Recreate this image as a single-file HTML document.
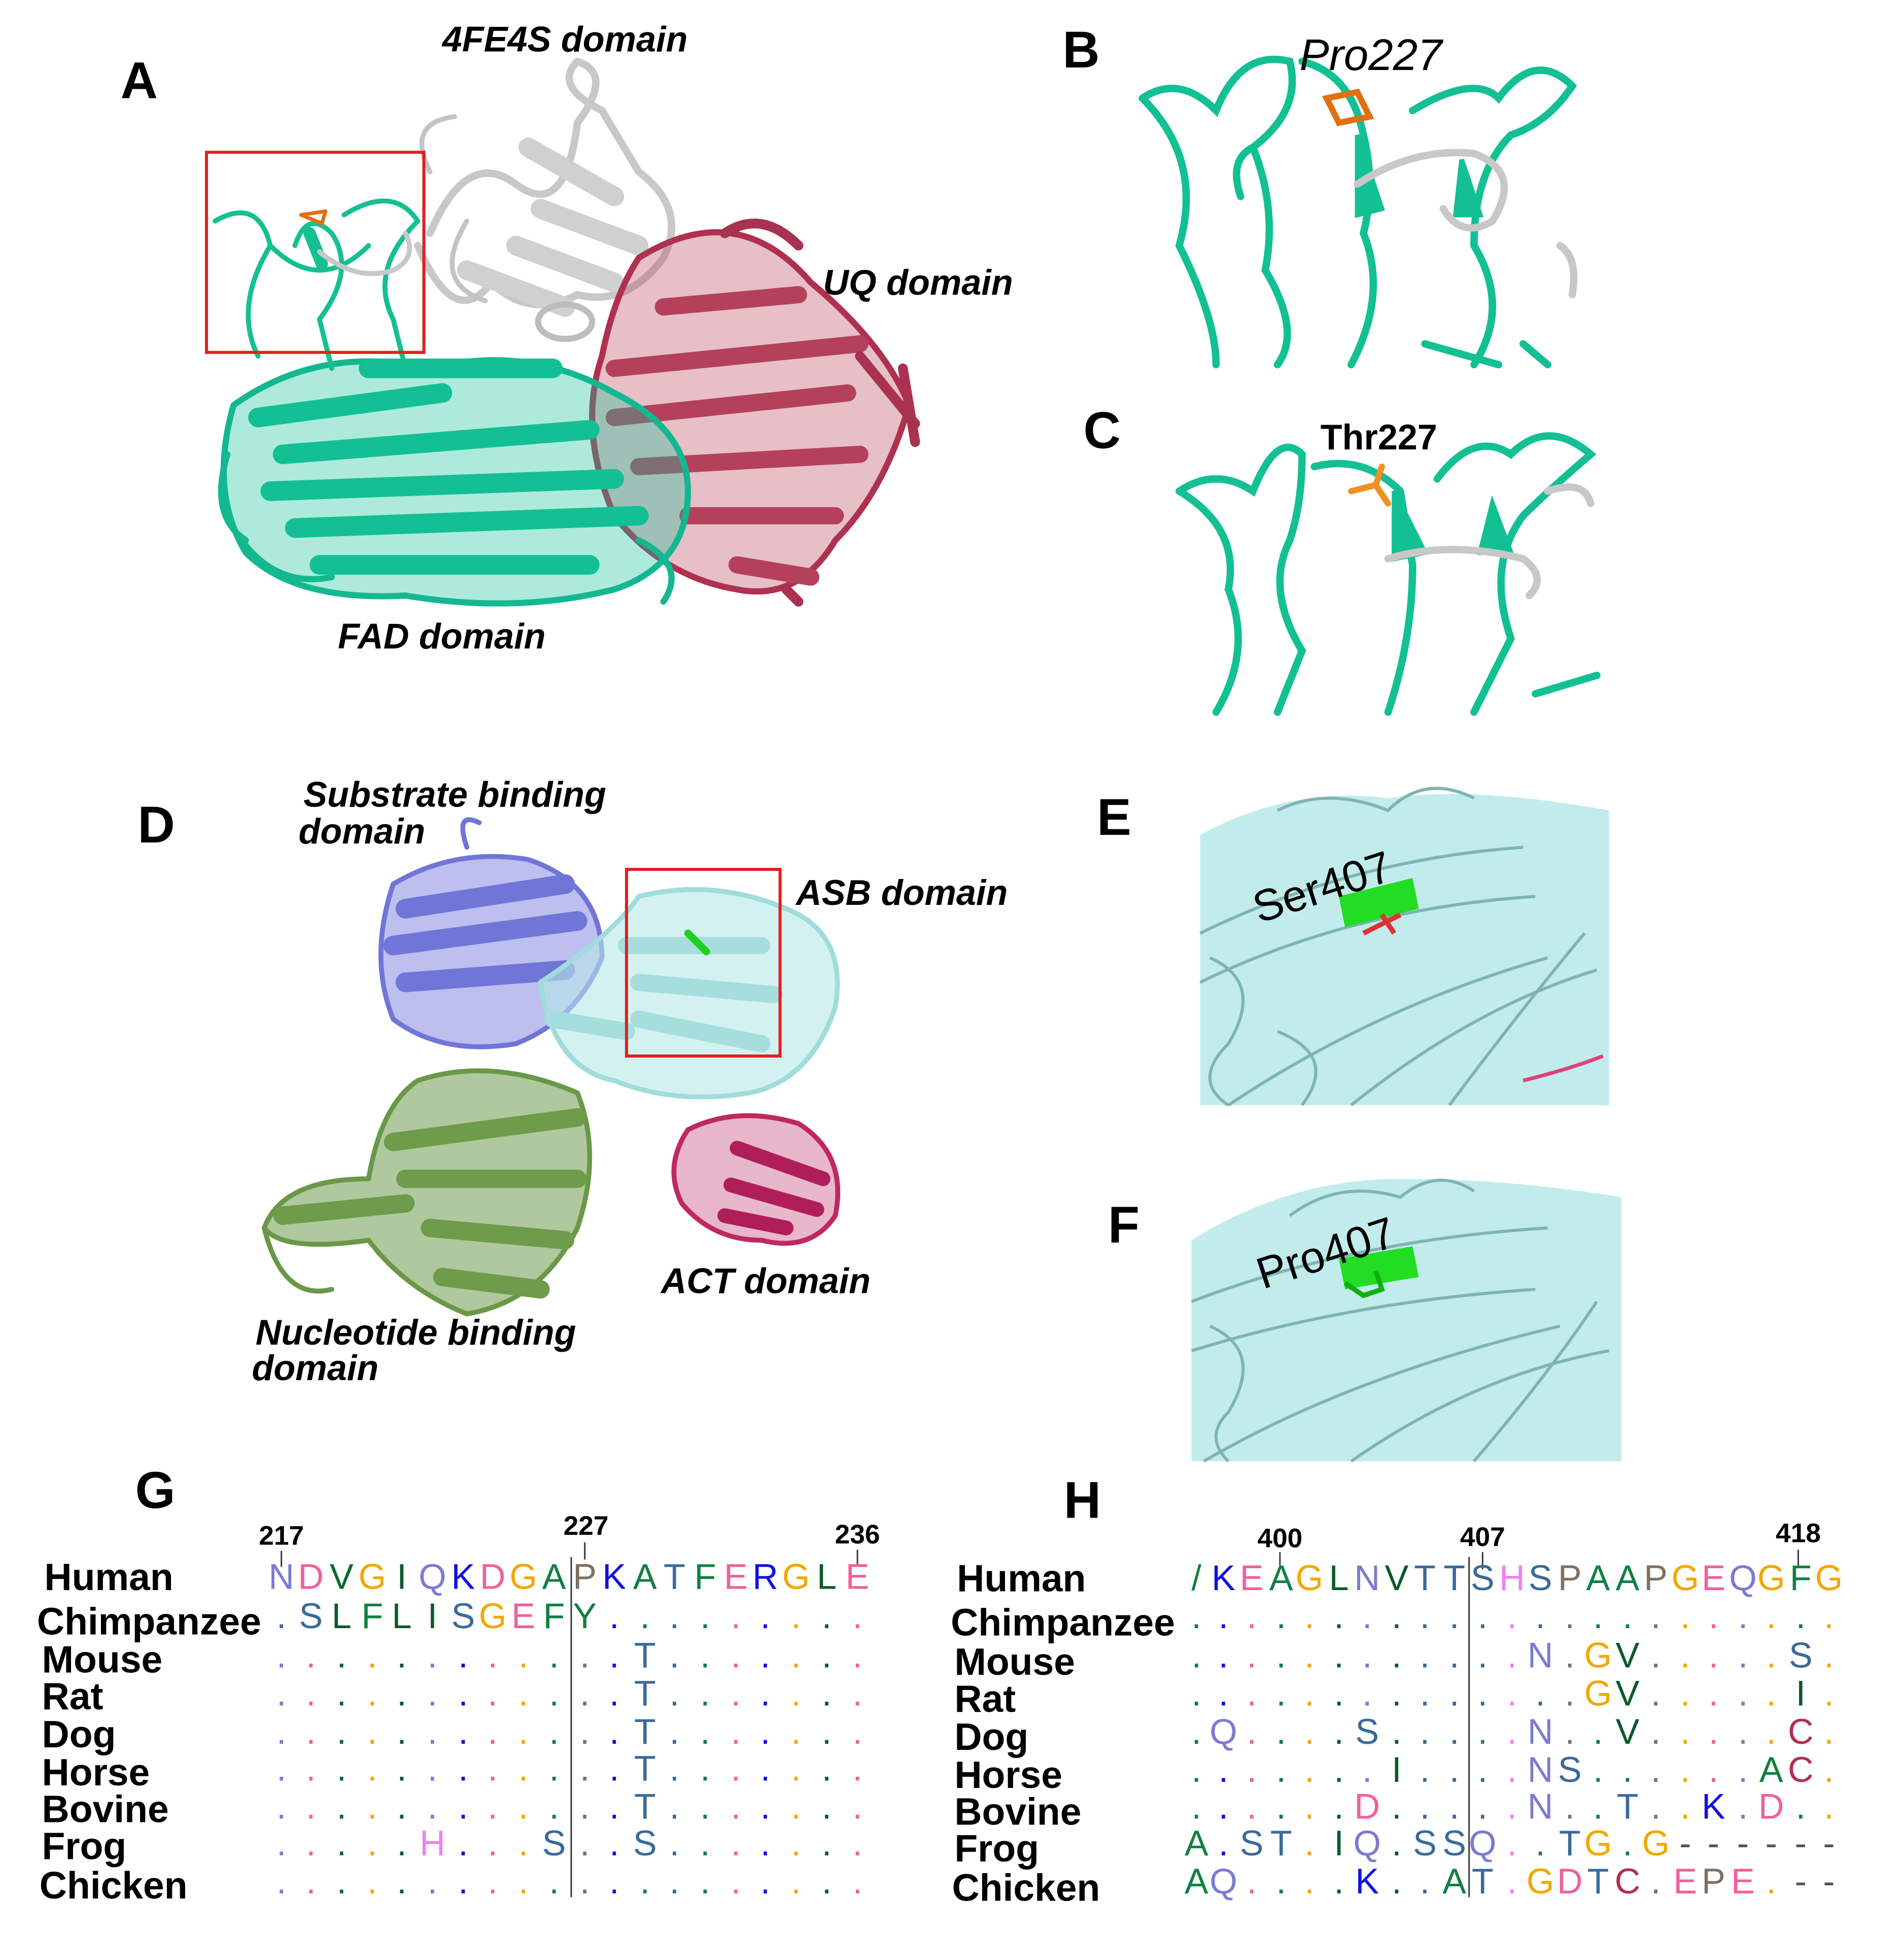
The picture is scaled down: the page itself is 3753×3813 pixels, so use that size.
<!DOCTYPE html>
<html><head><meta charset="utf-8"><style>
html,body{margin:0;padding:0;background:#fff}
svg{display:block}
.lb{font-family:"Liberation Sans",Arial,sans-serif;font-weight:bold;fill:#000}
.it{font-style:italic}
.sq{font-family:"Liberation Sans",Arial,sans-serif;font-size:29px}
.nm{font-family:"Liberation Sans",Arial,sans-serif;font-weight:bold;font-size:31px;fill:#000}
.num{font-family:"Liberation Sans",Arial,sans-serif;font-weight:bold;font-size:22px;fill:#000}
</style></head><body>
<svg width="3753" height="3813" viewBox="0 0 1550 1575" xmlns="http://www.w3.org/2000/svg">
<rect width="1550" height="1575" fill="#fff"/>

<!-- ===== Panel A ===== -->
<g fill="none" stroke-linecap="round" stroke-linejoin="round">
 <path d="M350 190 Q380 120 420 150 T470 100 Q500 60 470 50 Q450 70 490 90 L520 140 Q560 170 540 210 Q510 250 470 240 Q430 260 400 230 Q370 270 340 200" stroke="#c8c8c8" stroke-width="6"/>
 <path d="M430 120 L500 160 M440 170 L520 200 M420 200 L500 230 M380 220 L460 250" stroke="#d0d0d0" stroke-width="16"/>
 <ellipse cx="460" cy="262" rx="22" ry="14" stroke="#bdbdbd" stroke-width="5"/>
 <path d="M350 140 Q330 100 370 95 M380 180 Q350 230 395 245" stroke="#c4c4c4" stroke-width="4"/>
 <path d="M520 210 Q600 160 660 230 Q720 280 740 330 Q720 400 680 440 Q650 490 600 480 Q540 470 500 420 Q470 350 490 290 Q500 240 520 210 Z" fill="#b8485f" fill-opacity="0.35" stroke="#b03050" stroke-width="5"/>
 <path d="M500 300 L700 280 M500 340 L690 320 M520 380 L700 370 M560 420 L680 420 M600 460 L660 470 M540 250 L650 240" stroke="#b5405c" stroke-width="14"/>
 <path d="M590 190 Q620 170 650 200 M700 290 L745 345 M735 300 L745 360 M640 480 L650 490" stroke="#a8324f" stroke-width="8"/>
 <path d="M190 330 Q260 280 350 300 Q430 280 500 320 Q560 350 560 400 Q560 460 500 480 Q420 500 330 485 Q240 490 200 450 Q170 400 190 330 Z" fill="#16c49a" fill-opacity="0.35" stroke="#14b890" stroke-width="5"/>
 <path d="M210 340 L360 320 M230 370 L480 350 M220 400 L500 390 M240 430 L520 420 M260 460 L480 460 M300 300 L450 300" stroke="#12c094" stroke-width="16"/>
 <path d="M185 370 Q170 420 200 440 M190 430 Q220 480 270 470 M520 440 Q560 460 540 490" stroke="#12b88f" stroke-width="5"/>
 <path d="M175 180 Q210 160 220 200 Q190 250 210 290 M240 200 Q250 170 270 190 Q290 220 260 260 L270 300 M280 175 Q320 150 340 180 Q300 220 320 260 L330 300 M220 200 Q260 240 300 200" stroke="#14c092" stroke-width="4"/>
 <path d="M252 190 L262 215" stroke="#14c092" stroke-width="10"/>
 <path d="M260 205 Q290 230 320 220 Q340 210 330 190" stroke="#c8c8c8" stroke-width="4"/>
 <path d="M245 175 L265 172 L262 182 Z" stroke="#e07010" stroke-width="3"/>
</g>
<rect x="168" y="124" width="177" height="163" fill="none" stroke="#e02020" stroke-width="2.5"/>
<text x="98" y="80" class="lb" font-size="42">A</text>
<text x="360" y="42" class="lb it" font-size="29">4FE4S domain</text>
<text x="670" y="240" class="lb it" font-size="29">UQ domain</text>
<text x="275" y="528" class="lb it" font-size="29">FAD domain</text>

<!-- ===== Panel B ===== -->
<g fill="none" stroke="#12c094" stroke-width="6" stroke-linecap="round">
 <path d="M930 80 Q960 60 990 90 Q1010 40 1050 50 Q1060 90 1020 120 Q1000 130 1010 160"/>
 <path d="M930 80 Q980 130 960 200 Q990 260 990 297"/>
 <path d="M1020 120 Q1040 170 1030 220 Q1060 270 1040 297"/>
 <path d="M1060 50 Q1100 60 1110 110 Q1120 150 1110 190 Q1130 240 1100 297"/>
 <path d="M1150 90 Q1200 60 1220 80 Q1250 40 1280 70 Q1260 100 1230 110 Q1200 140 1200 200 Q1230 250 1200 297"/>
 <path d="M1160 280 L1220 297 M1240 280 L1260 297"/>
 <path d="M1105 110 L1125 170 L1105 175 Z" fill="#12c094" stroke-width="4"/>
 <path d="M1190 130 L1205 175 L1185 175 Z" fill="#12c094" stroke-width="4"/>
 <path d="M1105 150 Q1150 120 1200 125 Q1240 140 1215 180 Q1190 195 1175 170" stroke="#c8c8c8"/>
 <path d="M1270 200 Q1285 210 1280 240" stroke="#c8c8c8"/>
 <path d="M1080 80 L1105 75 L1115 95 L1090 100 Z" stroke="#e07010" stroke-width="5"/>
</g>
<text x="865" y="55" class="lb" font-size="42">B</text>
<text x="1058" y="57" font-family="Liberation Sans,Arial,sans-serif" font-style="italic" font-size="36">Pro227</text>

<!-- ===== Panel C ===== -->
<g fill="none" stroke="#12c094" stroke-width="6" stroke-linecap="round">
 <path d="M960 400 Q990 380 1020 400 Q1040 350 1060 370 Q1060 410 1050 440 Q1030 480 1060 530 L1040 580"/>
 <path d="M960 400 Q1010 430 1000 480 Q1020 530 990 580"/>
 <path d="M1070 380 Q1110 370 1140 400 L1150 460 Q1150 520 1130 580"/>
 <path d="M1170 390 Q1200 350 1230 370 Q1260 340 1295 370 Q1260 400 1240 420 Q1210 460 1230 520 L1200 580"/>
 <path d="M1135 400 L1160 450 L1135 455 Z" fill="#12c094" stroke-width="4"/>
 <path d="M1215 410 L1230 450 L1205 450 Z" fill="#12c094" stroke-width="4"/>
 <path d="M1250 565 L1300 550"/>
 <path d="M1130 455 Q1180 440 1240 455 Q1260 470 1245 485" stroke="#c8c8c8"/>
 <path d="M1260 400 Q1290 390 1295 410" stroke="#c8c8c8"/>
 <path d="M1100 400 L1120 395 L1130 410 M1120 395 L1125 380" stroke="#f09020" stroke-width="5"/>
</g>
<text x="882" y="365" class="lb" font-size="42">C</text>
<text x="1075" y="366" class="lb" font-size="29">Thr227</text>

<!-- ===== Panel D ===== -->
<g fill="none" stroke-linecap="round" stroke-linejoin="round">
 <path d="M320 720 Q370 690 430 700 Q490 720 490 780 Q470 830 420 850 Q360 860 320 830 Q300 780 320 720 Z" fill="#7b7fe0" fill-opacity="0.5" stroke="#7075d8" stroke-width="4"/>
 <path d="M330 740 L460 720 M320 770 L470 750 M330 800 L460 790" stroke="#7075d8" stroke-width="16"/>
 <path d="M380 690 Q370 660 390 670" stroke="#7075d8" stroke-width="4"/>
 <path d="M440 800 Q500 760 520 730 Q580 715 640 740 Q690 760 680 820 Q660 880 610 890 Q550 900 500 880 Q450 870 440 800 Z" fill="#b8e8e8" fill-opacity="0.6" stroke="#a0dcdc" stroke-width="4"/>
 <path d="M450 830 L510 840 M510 770 L620 770 M520 800 L630 810 M520 830 L620 850" stroke="#a6dede" stroke-width="14"/>
 <path d="M340 880 Q400 860 470 890 Q490 940 470 1000 Q440 1060 380 1070 Q330 1050 300 1010 Q230 1020 215 1000 Q230 960 300 960 Q310 900 340 880 Z" fill="#6f9a4f" fill-opacity="0.55" stroke="#6a9848" stroke-width="4"/>
 <path d="M230 990 L330 980 M320 930 L470 910 M330 960 L470 960 M350 1000 L460 1010 M360 1040 L440 1050" stroke="#6e9c4a" stroke-width="15"/>
 <path d="M215 1000 Q230 1060 270 1050" stroke="#6a9848" stroke-width="4"/>
 <path d="M560 920 Q600 900 650 915 Q690 940 680 990 Q660 1020 620 1010 Q580 1010 555 980 Q540 950 560 920 Z" fill="#c03068" fill-opacity="0.35" stroke="#c02860" stroke-width="4"/>
 <path d="M600 935 L670 960 M595 965 L665 985 M590 990 L640 1000" stroke="#b01e5a" stroke-width="12"/>
 <path d="M560 760 L575 775" stroke="#20d020" stroke-width="6"/>
</g>
<rect x="510" y="708" width="125" height="152" fill="none" stroke="#e02020" stroke-width="2.5"/>
<text x="112" y="686" class="lb" font-size="42">D</text>
<text x="247" y="657" class="lb it" font-size="29">Substrate binding</text>
<text x="243" y="687" class="lb it" font-size="29">domain</text>
<text x="648" y="737" class="lb it" font-size="29">ASB domain</text>
<text x="538" y="1053" class="lb it" font-size="29">ACT domain</text>
<text x="208" y="1095" class="lb it" font-size="29">Nucleotide binding</text>
<text x="205" y="1124" class="lb it" font-size="29">domain</text>

<!-- ===== Panel E ===== -->
<g>
 <path d="M977 680 Q1050 640 1130 650 Q1200 640 1310 660 L1310 900 L977 900 Z" fill="#c2ecec"/>
 <g fill="none" stroke="#7fb4b4" stroke-width="2.5">
  <path d="M977 760 Q1100 700 1240 690 M977 800 Q1100 740 1250 730 M1000 900 Q1120 820 1260 780 M1100 900 Q1200 820 1300 790 M1180 900 Q1240 820 1290 760"/>
  <path d="M985 780 Q1030 800 1000 850 Q970 880 1000 900 M1040 840 Q1090 860 1060 900"/>
  <path d="M1040 660 Q1080 640 1130 660 Q1160 630 1200 650"/>
 </g>
 <path d="M1090 730 L1150 715 L1155 740 L1095 755 Z" fill="#22dd22"/>
 <path d="M1110 760 L1140 745 M1125 745 L1135 760" stroke="#e03030" stroke-width="4"/>
 <path d="M1240 880 Q1280 870 1305 860" stroke="#e0407a" stroke-width="3" fill="none"/>
</g>
<text x="893" y="680" class="lb" font-size="42">E</text>
<text x="1025" y="752" font-family="Liberation Sans,Arial,sans-serif" font-size="36" transform="rotate(-18 1025 752)">Ser407</text>

<!-- ===== Panel F ===== -->
<g>
 <path d="M970 1010 Q1050 960 1140 960 Q1230 960 1320 975 L1320 1190 L970 1190 Z" fill="#c2ecec"/>
 <g fill="none" stroke="#7fb4b4" stroke-width="2.5">
  <path d="M970 1060 Q1100 1010 1260 1000 M970 1100 Q1100 1060 1250 1050 M980 1190 Q1100 1120 1270 1080 M1100 1190 Q1200 1120 1310 1100 M1200 1190 Q1260 1120 1300 1060"/>
  <path d="M985 1080 Q1030 1100 1000 1150 Q980 1170 1000 1190"/>
  <path d="M1050 990 Q1090 960 1140 975 Q1170 950 1200 970"/>
 </g>
 <path d="M1090 1025 L1150 1015 L1155 1040 L1095 1050 Z" fill="#22dd22"/>
 <path d="M1095 1045 L1110 1055 L1125 1050 L1120 1035" stroke="#10b010" stroke-width="4" fill="none"/>
</g>
<text x="902" y="1012" class="lb" font-size="42">F</text>
<text x="1028" y="1050" font-family="Liberation Sans,Arial,sans-serif" font-size="36" transform="rotate(-18 1028 1050)">Pro407</text>

<!-- ===== Panel G ===== -->
<text x="110" y="1228" class="lb" font-size="42">G</text>
<g class="nm">
 <text x="36" y="1295">Human</text><text x="30" y="1331">Chimpanzee</text><text x="34" y="1362">Mouse</text>
 <text x="34" y="1392">Rat</text><text x="34" y="1423">Dog</text><text x="34" y="1454">Horse</text>
 <text x="34" y="1484">Bovine</text><text x="34" y="1514">Frog</text><text x="32" y="1546">Chicken</text>
</g>
<g class="num" text-anchor="middle"><text x="229" y="1258">217</text><text x="477" y="1250">227</text><text x="698" y="1257">236</text></g>
<path d="M229 1263 V1276 M476 1256 V1270 M698 1262 V1276 M465 1268 V1545" stroke="#333" stroke-width="1.2"/>
<g class="sq" text-anchor="middle">
 <text y="1294"><tspan x="229" fill="#7b7bd0">N</tspan><tspan x="253" fill="#f0609a">D</tspan><tspan x="278" fill="#0a6a2a">V</tspan><tspan x="303" fill="#f0a800">G</tspan><tspan x="327" fill="#0a5a2a">I</tspan><tspan x="352" fill="#7b7bd0">Q</tspan><tspan x="377" fill="#1010e0">K</tspan><tspan x="401" fill="#f0609a">D</tspan><tspan x="426" fill="#f0a800">G</tspan><tspan x="451" fill="#108040">A</tspan><tspan x="476" fill="#807060">P</tspan><tspan x="500" fill="#1010e0">K</tspan><tspan x="525" fill="#108040">A</tspan><tspan x="549" fill="#3a6a9a">T</tspan><tspan x="574" fill="#108040">F</tspan><tspan x="599" fill="#f0609a">E</tspan><tspan x="623" fill="#1010e0">R</tspan><tspan x="648" fill="#f0a800">G</tspan><tspan x="673" fill="#0a5a2a">L</tspan><tspan x="698" fill="#f0609a">E</tspan></text>
 <text y="1326"><tspan x="229" fill="#3a6a9a">.</tspan><tspan x="253" fill="#3a6a9a">S</tspan><tspan x="278" fill="#0a5a2a">L</tspan><tspan x="303" fill="#108040">F</tspan><tspan x="327" fill="#0a5a2a">L</tspan><tspan x="352" fill="#0a5a2a">I</tspan><tspan x="377" fill="#3a6a9a">S</tspan><tspan x="401" fill="#f0a800">G</tspan><tspan x="426" fill="#f0609a">E</tspan><tspan x="451" fill="#108040">F</tspan><tspan x="476" fill="#108040">Y</tspan><tspan x="500" fill="#1010e0">.</tspan><tspan x="525" fill="#108040">.</tspan><tspan x="549" fill="#3a6a9a">.</tspan><tspan x="574" fill="#108040">.</tspan><tspan x="599" fill="#f0609a">.</tspan><tspan x="623" fill="#1010e0">.</tspan><tspan x="648" fill="#f0a800">.</tspan><tspan x="673" fill="#0a5a2a">.</tspan><tspan x="698" fill="#f0609a">.</tspan></text>
</g>
<g class="sq" text-anchor="middle">
 <text y="1358"><tspan x="229" fill="#7b7bd0">.</tspan><tspan x="253" fill="#f0609a">.</tspan><tspan x="278" fill="#0a6a2a">.</tspan><tspan x="303" fill="#f0a800">.</tspan><tspan x="327" fill="#0a5a2a">.</tspan><tspan x="352" fill="#7b7bd0">.</tspan><tspan x="377" fill="#1010e0">.</tspan><tspan x="401" fill="#f0609a">.</tspan><tspan x="426" fill="#f0a800">.</tspan><tspan x="451" fill="#108040">.</tspan><tspan x="476" fill="#807060">.</tspan><tspan x="500" fill="#1010e0">.</tspan><tspan x="525" fill="#3a6a9a">T</tspan><tspan x="549" fill="#3a6a9a">.</tspan><tspan x="574" fill="#108040">.</tspan><tspan x="599" fill="#f0609a">.</tspan><tspan x="623" fill="#1010e0">.</tspan><tspan x="648" fill="#f0a800">.</tspan><tspan x="673" fill="#0a5a2a">.</tspan><tspan x="698" fill="#f0609a">.</tspan></text>
 <text y="1389"><tspan x="229" fill="#7b7bd0">.</tspan><tspan x="253" fill="#f0609a">.</tspan><tspan x="278" fill="#0a6a2a">.</tspan><tspan x="303" fill="#f0a800">.</tspan><tspan x="327" fill="#0a5a2a">.</tspan><tspan x="352" fill="#7b7bd0">.</tspan><tspan x="377" fill="#1010e0">.</tspan><tspan x="401" fill="#f0609a">.</tspan><tspan x="426" fill="#f0a800">.</tspan><tspan x="451" fill="#108040">.</tspan><tspan x="476" fill="#807060">.</tspan><tspan x="500" fill="#1010e0">.</tspan><tspan x="525" fill="#3a6a9a">T</tspan><tspan x="549" fill="#3a6a9a">.</tspan><tspan x="574" fill="#108040">.</tspan><tspan x="599" fill="#f0609a">.</tspan><tspan x="623" fill="#1010e0">.</tspan><tspan x="648" fill="#f0a800">.</tspan><tspan x="673" fill="#0a5a2a">.</tspan><tspan x="698" fill="#f0609a">.</tspan></text>
 <text y="1420"><tspan x="229" fill="#7b7bd0">.</tspan><tspan x="253" fill="#f0609a">.</tspan><tspan x="278" fill="#0a6a2a">.</tspan><tspan x="303" fill="#f0a800">.</tspan><tspan x="327" fill="#0a5a2a">.</tspan><tspan x="352" fill="#7b7bd0">.</tspan><tspan x="377" fill="#1010e0">.</tspan><tspan x="401" fill="#f0609a">.</tspan><tspan x="426" fill="#f0a800">.</tspan><tspan x="451" fill="#108040">.</tspan><tspan x="476" fill="#807060">.</tspan><tspan x="500" fill="#1010e0">.</tspan><tspan x="525" fill="#3a6a9a">T</tspan><tspan x="549" fill="#3a6a9a">.</tspan><tspan x="574" fill="#108040">.</tspan><tspan x="599" fill="#f0609a">.</tspan><tspan x="623" fill="#1010e0">.</tspan><tspan x="648" fill="#f0a800">.</tspan><tspan x="673" fill="#0a5a2a">.</tspan><tspan x="698" fill="#f0609a">.</tspan></text>
 <text y="1450"><tspan x="229" fill="#7b7bd0">.</tspan><tspan x="253" fill="#f0609a">.</tspan><tspan x="278" fill="#0a6a2a">.</tspan><tspan x="303" fill="#f0a800">.</tspan><tspan x="327" fill="#0a5a2a">.</tspan><tspan x="352" fill="#7b7bd0">.</tspan><tspan x="377" fill="#1010e0">.</tspan><tspan x="401" fill="#f0609a">.</tspan><tspan x="426" fill="#f0a800">.</tspan><tspan x="451" fill="#108040">.</tspan><tspan x="476" fill="#807060">.</tspan><tspan x="500" fill="#1010e0">.</tspan><tspan x="525" fill="#3a6a9a">T</tspan><tspan x="549" fill="#3a6a9a">.</tspan><tspan x="574" fill="#108040">.</tspan><tspan x="599" fill="#f0609a">.</tspan><tspan x="623" fill="#1010e0">.</tspan><tspan x="648" fill="#f0a800">.</tspan><tspan x="673" fill="#0a5a2a">.</tspan><tspan x="698" fill="#f0609a">.</tspan></text>
 <text y="1481"><tspan x="229" fill="#7b7bd0">.</tspan><tspan x="253" fill="#f0609a">.</tspan><tspan x="278" fill="#0a6a2a">.</tspan><tspan x="303" fill="#f0a800">.</tspan><tspan x="327" fill="#0a5a2a">.</tspan><tspan x="352" fill="#7b7bd0">.</tspan><tspan x="377" fill="#1010e0">.</tspan><tspan x="401" fill="#f0609a">.</tspan><tspan x="426" fill="#f0a800">.</tspan><tspan x="451" fill="#108040">.</tspan><tspan x="476" fill="#807060">.</tspan><tspan x="500" fill="#1010e0">.</tspan><tspan x="525" fill="#3a6a9a">T</tspan><tspan x="549" fill="#3a6a9a">.</tspan><tspan x="574" fill="#108040">.</tspan><tspan x="599" fill="#f0609a">.</tspan><tspan x="623" fill="#1010e0">.</tspan><tspan x="648" fill="#f0a800">.</tspan><tspan x="673" fill="#0a5a2a">.</tspan><tspan x="698" fill="#f0609a">.</tspan></text>
 <text y="1511"><tspan x="229" fill="#7b7bd0">.</tspan><tspan x="253" fill="#f0609a">.</tspan><tspan x="278" fill="#0a6a2a">.</tspan><tspan x="303" fill="#f0a800">.</tspan><tspan x="327" fill="#0a5a2a">.</tspan><tspan x="352" fill="#f080f0">H</tspan><tspan x="377" fill="#1010e0">.</tspan><tspan x="401" fill="#f0609a">.</tspan><tspan x="426" fill="#f0a800">.</tspan><tspan x="451" fill="#3a6a9a">S</tspan><tspan x="476" fill="#807060">.</tspan><tspan x="500" fill="#1010e0">.</tspan><tspan x="525" fill="#3a6a9a">S</tspan><tspan x="549" fill="#3a6a9a">.</tspan><tspan x="574" fill="#108040">.</tspan><tspan x="599" fill="#f0609a">.</tspan><tspan x="623" fill="#1010e0">.</tspan><tspan x="648" fill="#f0a800">.</tspan><tspan x="673" fill="#0a5a2a">.</tspan><tspan x="698" fill="#f0609a">.</tspan></text>
 <text y="1542"><tspan x="229" fill="#7b7bd0">.</tspan><tspan x="253" fill="#f0609a">.</tspan><tspan x="278" fill="#0a6a2a">.</tspan><tspan x="303" fill="#f0a800">.</tspan><tspan x="327" fill="#0a5a2a">.</tspan><tspan x="352" fill="#7b7bd0">.</tspan><tspan x="377" fill="#1010e0">.</tspan><tspan x="401" fill="#f0609a">.</tspan><tspan x="426" fill="#f0a800">.</tspan><tspan x="451" fill="#108040">.</tspan><tspan x="476" fill="#807060">.</tspan><tspan x="500" fill="#1010e0">.</tspan><tspan x="525" fill="#108040">.</tspan><tspan x="549" fill="#3a6a9a">.</tspan><tspan x="574" fill="#108040">.</tspan><tspan x="599" fill="#f0609a">.</tspan><tspan x="623" fill="#1010e0">.</tspan><tspan x="648" fill="#f0a800">.</tspan><tspan x="673" fill="#0a5a2a">.</tspan><tspan x="698" fill="#f0609a">.</tspan></text>
</g>

<!-- ===== Panel H ===== -->
<text x="866" y="1236" class="lb" font-size="42">H</text>
<g class="nm">
 <text x="779" y="1296">Human</text><text x="774" y="1332">Chimpanzee</text><text x="777" y="1364">Mouse</text>
 <text x="777" y="1394">Rat</text><text x="777" y="1425">Dog</text><text x="777" y="1456">Horse</text>
 <text x="777" y="1486">Bovine</text><text x="777" y="1516">Frog</text><text x="775" y="1548">Chicken</text>
</g>
<g class="num" text-anchor="middle"><text x="1042" y="1260">400</text><text x="1207" y="1259">407</text><text x="1464" y="1256">418</text></g>
<path d="M1042 1264 V1278 M1207 1264 V1278 M1464 1262 V1276 M1196 1268 V1545" stroke="#333" stroke-width="1.2"/>
<g class="sq" text-anchor="middle">
 <text y="1295"><tspan x="974" fill="#108040">/</tspan><tspan x="996" fill="#1010e0">K</tspan><tspan x="1019" fill="#f0609a">E</tspan><tspan x="1043" fill="#108040">A</tspan><tspan x="1066" fill="#f0a800">G</tspan><tspan x="1090" fill="#0a5a2a">L</tspan><tspan x="1113" fill="#7b7bd0">N</tspan><tspan x="1137" fill="#0a5a2a">V</tspan><tspan x="1160" fill="#3a6a9a">T</tspan><tspan x="1184" fill="#3a6a9a">T</tspan><tspan x="1207" fill="#3a6a9a">S</tspan><tspan x="1231" fill="#f080f0">H</tspan><tspan x="1254" fill="#3a6a9a">S</tspan><tspan x="1278" fill="#807060">P</tspan><tspan x="1301" fill="#108040">A</tspan><tspan x="1325" fill="#108040">A</tspan><tspan x="1348" fill="#807060">P</tspan><tspan x="1372" fill="#f0a800">G</tspan><tspan x="1395" fill="#f0609a">E</tspan><tspan x="1419" fill="#7b7bd0">Q</tspan><tspan x="1442" fill="#f0a800">G</tspan><tspan x="1466" fill="#108040">F</tspan><tspan x="1489" fill="#f0a800">G</tspan></text>
 <text y="1326"><tspan x="974" fill="#108040">.</tspan><tspan x="996" fill="#1010e0">.</tspan><tspan x="1019" fill="#f0609a">.</tspan><tspan x="1043" fill="#108040">.</tspan><tspan x="1066" fill="#f0a800">.</tspan><tspan x="1090" fill="#0a5a2a">.</tspan><tspan x="1113" fill="#7b7bd0">.</tspan><tspan x="1137" fill="#0a5a2a">.</tspan><tspan x="1160" fill="#3a6a9a">.</tspan><tspan x="1184" fill="#3a6a9a">.</tspan><tspan x="1207" fill="#3a6a9a">.</tspan><tspan x="1231" fill="#f080f0">.</tspan><tspan x="1254" fill="#3a6a9a">.</tspan><tspan x="1278" fill="#807060">.</tspan><tspan x="1301" fill="#108040">.</tspan><tspan x="1325" fill="#108040">.</tspan><tspan x="1348" fill="#807060">.</tspan><tspan x="1372" fill="#f0a800">.</tspan><tspan x="1395" fill="#f0609a">.</tspan><tspan x="1419" fill="#7b7bd0">.</tspan><tspan x="1442" fill="#f0a800">.</tspan><tspan x="1466" fill="#108040">.</tspan><tspan x="1489" fill="#f0a800">.</tspan></text>
 <text y="1358"><tspan x="974" fill="#108040">.</tspan><tspan x="996" fill="#1010e0">.</tspan><tspan x="1019" fill="#f0609a">.</tspan><tspan x="1043" fill="#108040">.</tspan><tspan x="1066" fill="#f0a800">.</tspan><tspan x="1090" fill="#0a5a2a">.</tspan><tspan x="1113" fill="#7b7bd0">.</tspan><tspan x="1137" fill="#0a5a2a">.</tspan><tspan x="1160" fill="#3a6a9a">.</tspan><tspan x="1184" fill="#3a6a9a">.</tspan><tspan x="1207" fill="#3a6a9a">.</tspan><tspan x="1231" fill="#f080f0">.</tspan><tspan x="1254" fill="#7b7bd0">N</tspan><tspan x="1278" fill="#807060">.</tspan><tspan x="1301" fill="#f0a800">G</tspan><tspan x="1325" fill="#0a5a2a">V</tspan><tspan x="1348" fill="#807060">.</tspan><tspan x="1372" fill="#f0a800">.</tspan><tspan x="1395" fill="#f0609a">.</tspan><tspan x="1419" fill="#7b7bd0">.</tspan><tspan x="1442" fill="#f0a800">.</tspan><tspan x="1466" fill="#3a6a9a">S</tspan><tspan x="1489" fill="#f0a800">.</tspan></text>
 <text y="1389"><tspan x="974" fill="#108040">.</tspan><tspan x="996" fill="#1010e0">.</tspan><tspan x="1019" fill="#f0609a">.</tspan><tspan x="1043" fill="#108040">.</tspan><tspan x="1066" fill="#f0a800">.</tspan><tspan x="1090" fill="#0a5a2a">.</tspan><tspan x="1113" fill="#7b7bd0">.</tspan><tspan x="1137" fill="#0a5a2a">.</tspan><tspan x="1160" fill="#3a6a9a">.</tspan><tspan x="1184" fill="#3a6a9a">.</tspan><tspan x="1207" fill="#3a6a9a">.</tspan><tspan x="1231" fill="#f080f0">.</tspan><tspan x="1254" fill="#3a6a9a">.</tspan><tspan x="1278" fill="#807060">.</tspan><tspan x="1301" fill="#f0a800">G</tspan><tspan x="1325" fill="#0a5a2a">V</tspan><tspan x="1348" fill="#807060">.</tspan><tspan x="1372" fill="#f0a800">.</tspan><tspan x="1395" fill="#f0609a">.</tspan><tspan x="1419" fill="#7b7bd0">.</tspan><tspan x="1442" fill="#f0a800">.</tspan><tspan x="1466" fill="#0a5a2a">I</tspan><tspan x="1489" fill="#f0a800">.</tspan></text>
 <text y="1420"><tspan x="974" fill="#108040">.</tspan><tspan x="996" fill="#7b7bd0">Q</tspan><tspan x="1019" fill="#f0609a">.</tspan><tspan x="1043" fill="#108040">.</tspan><tspan x="1066" fill="#f0a800">.</tspan><tspan x="1090" fill="#0a5a2a">.</tspan><tspan x="1113" fill="#3a6a9a">S</tspan><tspan x="1137" fill="#0a5a2a">.</tspan><tspan x="1160" fill="#3a6a9a">.</tspan><tspan x="1184" fill="#3a6a9a">.</tspan><tspan x="1207" fill="#3a6a9a">.</tspan><tspan x="1231" fill="#f080f0">.</tspan><tspan x="1254" fill="#7b7bd0">N</tspan><tspan x="1278" fill="#807060">.</tspan><tspan x="1301" fill="#108040">.</tspan><tspan x="1325" fill="#0a5a2a">V</tspan><tspan x="1348" fill="#807060">.</tspan><tspan x="1372" fill="#f0a800">.</tspan><tspan x="1395" fill="#f0609a">.</tspan><tspan x="1419" fill="#7b7bd0">.</tspan><tspan x="1442" fill="#f0a800">.</tspan><tspan x="1466" fill="#b03050">C</tspan><tspan x="1489" fill="#f0a800">.</tspan></text>
 <text y="1451"><tspan x="974" fill="#108040">.</tspan><tspan x="996" fill="#1010e0">.</tspan><tspan x="1019" fill="#f0609a">.</tspan><tspan x="1043" fill="#108040">.</tspan><tspan x="1066" fill="#f0a800">.</tspan><tspan x="1090" fill="#0a5a2a">.</tspan><tspan x="1113" fill="#7b7bd0">.</tspan><tspan x="1137" fill="#0a5a2a">I</tspan><tspan x="1160" fill="#3a6a9a">.</tspan><tspan x="1184" fill="#3a6a9a">.</tspan><tspan x="1207" fill="#3a6a9a">.</tspan><tspan x="1231" fill="#f080f0">.</tspan><tspan x="1254" fill="#7b7bd0">N</tspan><tspan x="1278" fill="#3a6a9a">S</tspan><tspan x="1301" fill="#108040">.</tspan><tspan x="1325" fill="#108040">.</tspan><tspan x="1348" fill="#807060">.</tspan><tspan x="1372" fill="#f0a800">.</tspan><tspan x="1395" fill="#f0609a">.</tspan><tspan x="1419" fill="#7b7bd0">.</tspan><tspan x="1442" fill="#108040">A</tspan><tspan x="1466" fill="#b03050">C</tspan><tspan x="1489" fill="#f0a800">.</tspan></text>
 <text y="1481"><tspan x="974" fill="#108040">.</tspan><tspan x="996" fill="#1010e0">.</tspan><tspan x="1019" fill="#f0609a">.</tspan><tspan x="1043" fill="#108040">.</tspan><tspan x="1066" fill="#f0a800">.</tspan><tspan x="1090" fill="#0a5a2a">.</tspan><tspan x="1113" fill="#f0609a">D</tspan><tspan x="1137" fill="#0a5a2a">.</tspan><tspan x="1160" fill="#3a6a9a">.</tspan><tspan x="1184" fill="#3a6a9a">.</tspan><tspan x="1207" fill="#3a6a9a">.</tspan><tspan x="1231" fill="#f080f0">.</tspan><tspan x="1254" fill="#7b7bd0">N</tspan><tspan x="1278" fill="#807060">.</tspan><tspan x="1301" fill="#108040">.</tspan><tspan x="1325" fill="#3a6a9a">T</tspan><tspan x="1348" fill="#807060">.</tspan><tspan x="1372" fill="#f0a800">.</tspan><tspan x="1395" fill="#1010e0">K</tspan><tspan x="1419" fill="#7b7bd0">.</tspan><tspan x="1442" fill="#f0609a">D</tspan><tspan x="1466" fill="#108040">.</tspan><tspan x="1489" fill="#f0a800">.</tspan></text>
 <text y="1511"><tspan x="974" fill="#108040">A</tspan><tspan x="996" fill="#1010e0">.</tspan><tspan x="1019" fill="#3a6a9a">S</tspan><tspan x="1043" fill="#3a6a9a">T</tspan><tspan x="1066" fill="#f0a800">.</tspan><tspan x="1090" fill="#0a5a2a">I</tspan><tspan x="1113" fill="#7b7bd0">Q</tspan><tspan x="1137" fill="#0a5a2a">.</tspan><tspan x="1160" fill="#3a6a9a">S</tspan><tspan x="1184" fill="#3a6a9a">S</tspan><tspan x="1207" fill="#7b7bd0">Q</tspan><tspan x="1231" fill="#f080f0">.</tspan><tspan x="1254" fill="#3a6a9a">.</tspan><tspan x="1278" fill="#3a6a9a">T</tspan><tspan x="1301" fill="#f0a800">G</tspan><tspan x="1325" fill="#108040">.</tspan><tspan x="1348" fill="#f0a800">G</tspan><tspan x="1372" fill="#555">-</tspan><tspan x="1395" fill="#555">-</tspan><tspan x="1419" fill="#555">-</tspan><tspan x="1442" fill="#555">-</tspan><tspan x="1466" fill="#555">-</tspan><tspan x="1489" fill="#555">-</tspan></text>
 <text y="1542"><tspan x="974" fill="#108040">A</tspan><tspan x="996" fill="#7b7bd0">Q</tspan><tspan x="1019" fill="#f0609a">.</tspan><tspan x="1043" fill="#108040">.</tspan><tspan x="1066" fill="#f0a800">.</tspan><tspan x="1090" fill="#0a5a2a">.</tspan><tspan x="1113" fill="#1010e0">K</tspan><tspan x="1137" fill="#0a5a2a">.</tspan><tspan x="1160" fill="#3a6a9a">.</tspan><tspan x="1184" fill="#108040">A</tspan><tspan x="1207" fill="#3a6a9a">T</tspan><tspan x="1231" fill="#f080f0">.</tspan><tspan x="1254" fill="#f0a800">G</tspan><tspan x="1278" fill="#f0609a">D</tspan><tspan x="1301" fill="#3a6a9a">T</tspan><tspan x="1325" fill="#b03050">C</tspan><tspan x="1348" fill="#807060">.</tspan><tspan x="1372" fill="#f0609a">E</tspan><tspan x="1395" fill="#807060">P</tspan><tspan x="1419" fill="#f0609a">E</tspan><tspan x="1442" fill="#f0a800">.</tspan><tspan x="1466" fill="#555">-</tspan><tspan x="1489" fill="#555">-</tspan></text>
</g>
</svg>
</body></html>
